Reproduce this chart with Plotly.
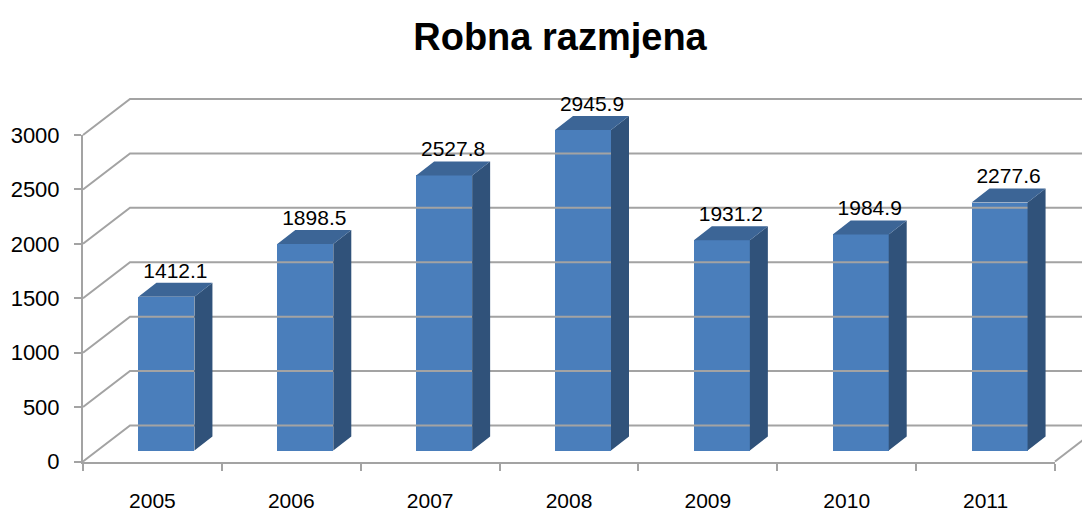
import plotly.graph_objects as go

# ---- data ----
years = ["2005", "2006", "2007", "2008", "2009", "2010", "2011"]
values = [1412.1, 1898.5, 2527.8, 2945.9, 1931.2, 1984.9, 2277.6]
y_ticks = [0, 500, 1000, 1500, 2000, 2500, 3000]

# ---- geometry (screen pixels; page body adds an 8px margin) ----
W, H = 1090, 513
OFF = 8
X0, X1 = 83 - OFF, 1055 - OFF        # front plane, horizontal extent
Y0, Y3000 = 461.5 - OFF, 135 - OFF   # front plane, vertical position of 0 and 3000
n = len(years)
cat_px = (X1 - X0) / n
val_px = (Y0 - Y3000) / 3000.0

# overlay axis ranges covering whole figure with same scales
x2_range = [(0 - X0) / cat_px - 0.5, (W - X0) / cat_px - 0.5]
y2_range = [(Y0 - H) / val_px, (Y0 - 0) / val_px]

# depth offsets (converted to data units)
back_dx, back_dy = 47 / cat_px, 36 / val_px       # back wall
bar_dx, bar_dy = 14 / cat_px, 11 / val_px         # bar front plane
side_dx, side_dy = 18 / cat_px, 14 / val_px       # bar depth
bar_w = 56 / cat_px

GRID = "#a3a3a3"
FRONT = "#4a7ebb"
TOP = "#3c6596"
SIDE = "#30527a"
FONT = "Liberation Sans, Arial, sans-serif"

fig = go.Figure()

# dummy trace to activate front axes
fig.add_trace(go.Scatter(x=[0], y=[0], mode="markers", marker=dict(opacity=0),
                         xaxis="x", yaxis="y", hoverinfo="skip", showlegend=False))

# back wall gridlines + left diagonals
gx, gy = [], []
for v in y_ticks:
    gx += [-0.5, -0.5 + back_dx, x2_range[1] + 1, None]
    gy += [v, v + back_dy, v + back_dy, None]
# right floor diagonal
gx += [n - 0.5, n - 0.5 + back_dx, None]
gy += [0, back_dy, None]
fig.add_trace(go.Scatter(x=gx, y=gy, mode="lines", xaxis="x2", yaxis="y2",
                         line=dict(color=GRID, width=2), hoverinfo="skip",
                         showlegend=False, cliponaxis=True))

# bars front faces
xs = [i + bar_dx for i in range(n)]
fig.add_trace(go.Bar(x=xs, y=values, base=[bar_dy] * n, width=bar_w,
                     marker=dict(color=FRONT, line=dict(width=0)),
                     xaxis="x2", yaxis="y2", showlegend=False))

# side and top faces
sx, sy, tx, ty = [], [], [], []
for i, v in enumerate(values):
    xl = xs[i] - bar_w / 2
    xr = xs[i] + bar_w / 2
    b = bar_dy
    t = bar_dy + v
    sx += [xr, xr + side_dx, xr + side_dx, xr, xr, None]
    sy += [b, b + side_dy, t + side_dy, t, b, None]
    tx += [xl, xr, xr + side_dx, xl + side_dx, xl, None]
    ty += [t, t, t + side_dy, t + side_dy, t, None]
fig.add_trace(go.Scatter(x=sx, y=sy, mode="lines", fill="toself", fillcolor=SIDE,
                         line=dict(width=0, color=SIDE), xaxis="x2", yaxis="y2",
                         hoverinfo="skip", showlegend=False))
fig.add_trace(go.Scatter(x=tx, y=ty, mode="lines", fill="toself", fillcolor=TOP,
                         line=dict(width=0, color=TOP), xaxis="x2", yaxis="y2",
                         hoverinfo="skip", showlegend=False))

# data labels
fig.add_trace(go.Scatter(x=[x + side_dx / 2 for x in xs],
                         y=[bar_dy + v + side_dy for v in values],
                         mode="text", text=[f"{v:.1f}" for v in values],
                         textposition="top center",
                         textfont=dict(family=FONT, size=21, color="black"),
                         xaxis="x2", yaxis="y2", hoverinfo="skip",
                         showlegend=False, cliponaxis=False))

fig.update_layout(
    width=W, height=H,
    margin=dict(l=0, r=0, t=0, b=0, pad=0, autoexpand=False),
    paper_bgcolor="white", plot_bgcolor="rgba(0,0,0,0)",
    font=dict(family=FONT, size=22, color="black"),
    title=dict(text="<b>Robna razmjena</b>", x=(560 - OFF) / W, xanchor="center",
               y=1 - (37 - OFF) / H, yanchor="middle",
               font=dict(family=FONT, size=38, color="black")),
    xaxis=dict(domain=[X0 / W, X1 / W], range=[-0.5, n - 0.5], anchor="y",
               tickvals=list(range(n)), ticktext=years, ticks="",
               tickfont=dict(size=21),
               showline=True, linecolor=GRID, linewidth=2, automargin=False,
               showgrid=False, zeroline=False, ticklabelstandoff=19,
               minor=dict(tickvals=[i - 0.5 for i in range(n + 1)], ticks="outside",
                          ticklen=7, tickcolor=GRID, tickwidth=2, showgrid=False),
               fixedrange=True),
    yaxis=dict(domain=[(H - Y0) / H, (H - Y3000) / H], range=[0, 3000], anchor="x",
               tickvals=y_ticks, ticks="outside", ticklen=7, tickcolor=GRID,
               tickwidth=2, showline=True, linecolor=GRID, linewidth=2,
               showgrid=False, zeroline=False, ticklabelstandoff=10,
               automargin=False, fixedrange=True),
    xaxis2=dict(domain=[0, 1], range=x2_range, visible=False, anchor="y2",
                automargin=False, fixedrange=True),
    yaxis2=dict(domain=[0, 1], range=y2_range, visible=False, anchor="x2",
                automargin=False, fixedrange=True),
    bargap=0,
)

fig.write_html("out.html")
